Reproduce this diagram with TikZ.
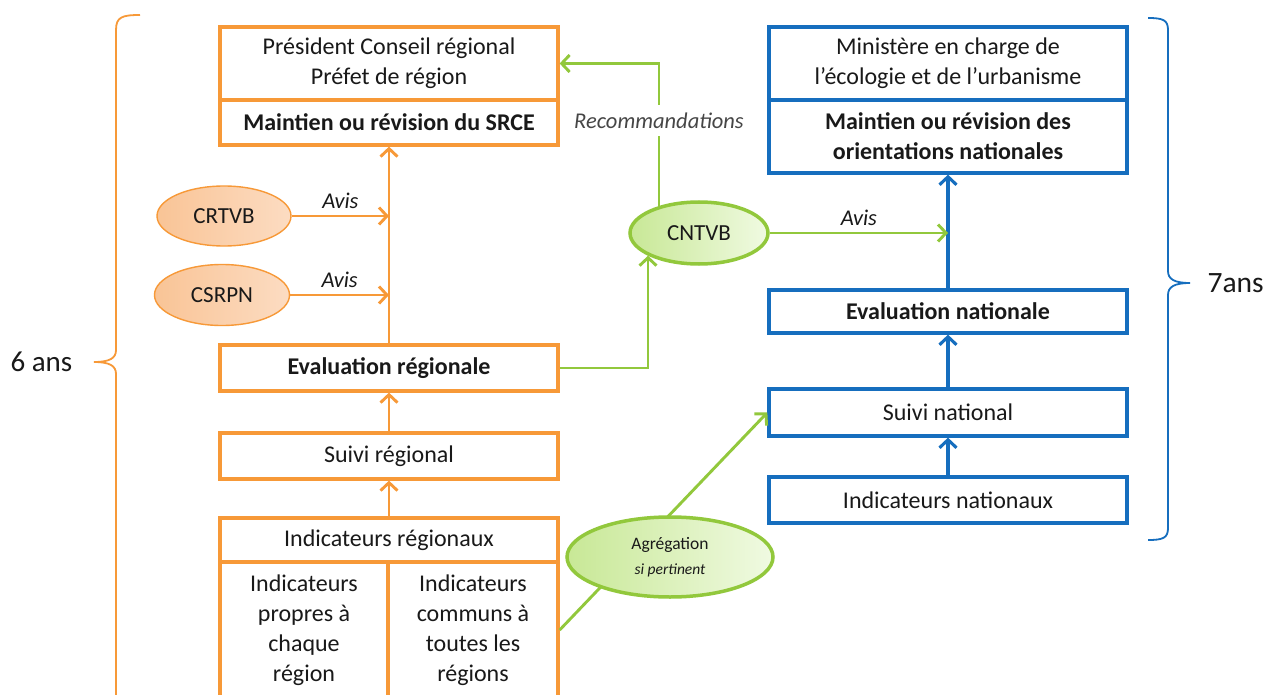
\documentclass[tikz,border=0pt]{standalone}
\usepackage{fontspec}
\setmainfont{Carlito}
\usetikzlibrary{arrows.meta,shapes.geometric}
\definecolor{orng}{RGB}{247,153,56}
\definecolor{orfillA}{RGB}{249,196,150}
\definecolor{orfillB}{RGB}{252,220,194}
\definecolor{blu}{RGB}{22,110,190}
\definecolor{grn}{RGB}{146,200,60}
\definecolor{grfillA}{RGB}{200,232,150}
\definecolor{grfillB}{RGB}{240,250,226}
\definecolor{txt}{RGB}{25,25,25}
\definecolor{gtxt}{RGB}{70,70,70}
\tikzset{
  obox/.style={draw=orng, line width=3.3pt, fill=white, align=center, inner sep=0pt, text=txt, minimum width=338pt},
  bbox/.style={draw=blu, line width=3.3pt, fill=white, align=center, inner sep=0pt, text=txt, minimum width=358pt},
  oell/.style={ellipse, draw=orng, line width=1.4pt, left color=orfillA, right color=orfillB, inner sep=0pt, text=txt, font=\fontsize{23}{28}\selectfont},
  gell/.style={ellipse, draw=grn, line width=3.5pt, left color=grfillA, right color=grfillB, inner sep=0pt, text=txt},
  tip/.style={-{Straight Barb[length=8pt,width=17pt]}},
  oarrow/.style={tip, draw=orng, line width=2.9pt},
  barrow/.style={tip, draw=blu, line width=3.1pt},
  garrow/.style={tip, draw=grn, line width=2.9pt},
  lbl/.style={font=\fontsize{22.5}{26}\selectfont\itshape, text=txt, inner sep=2pt},
  brace/.style={line width=1.8pt}
}
\begin{document}
\begin{tikzpicture}[x=1pt,y=-1pt,font=\fontsize{24}{30}\selectfont]
\clip (0,0) rectangle (1271,695);
\fill[white] (0,0) rectangle (1271,695);

% regional column
\node[obox, minimum height=73pt] (rPres) at (389,63.5) {Président Conseil régional\\Préfet de région};
\node[obox, minimum height=45pt] (rMaint) at (389,122.5) {\textbf{Maintien ou révision du SRCE}};
\node[obox, minimum height=46pt] (rEval) at (389,368) {\textbf{Evaluation régionale}};
\node[obox, minimum height=46pt] (rSuivi) at (389,456) {Suivi régional};
\node[obox, minimum height=44pt] (rInd) at (389,540) {Indicateurs régionaux};
\node[obox, minimum width=168pt, minimum height=136pt] (rProp) at (304,630) {Indicateurs\\propres à\\chaque\\région};
\node[obox, minimum width=170pt, minimum height=136pt] (rComm) at (473,630) {Indicateurs\\communs à\\toutes les\\régions};

\node[oell, minimum width=134pt, minimum height=60pt] (crtvb) at (224,216) {CRTVB};
\node[oell, minimum width=135pt, minimum height=61pt] (csrpn) at (222,295) {CSRPN};

\coordinate (j1) at (389,216);
\coordinate (j2) at (389,295);
\draw[oarrow] (rEval.north) -- (rMaint.south);
\draw[oarrow] (crtvb.east) -- (j1) node[midway, above=4pt, lbl] {Avis};
\draw[oarrow] (csrpn.east) -- (j2) node[midway, above=4pt, lbl] {Avis};
\draw[oarrow] (rSuivi.north) -- (rEval.south);
\draw[oarrow] (rInd.north) -- (rSuivi.south);

% national column
\node[bbox, minimum height=73pt] (nMin) at (948,63.5) {Ministère en charge de\\l’écologie et de l’urbanisme};
\node[bbox, minimum height=73pt] (nMaint) at (948,136.5) {\textbf{Maintien ou révision des}\\\textbf{orientations nationales}};
\node[bbox, minimum height=43pt] (nEval) at (948,311.5) {\textbf{Evaluation nationale}};
\node[bbox, minimum height=47pt] (nSuivi) at (948,412.5) {Suivi national};
\node[bbox, minimum height=46pt] (nInd) at (948,500) {Indicateurs nationaux};

\draw[barrow] (nEval.north) -- (nMaint.south);
\draw[barrow] (nSuivi.north) -- (nEval.south);
\draw[barrow] (nInd.north) -- (nSuivi.south);

% CNTVB
\node[gell, minimum width=138pt, minimum height=62pt, font=\fontsize{23}{28}\selectfont] (cntvb) at (699,233) {CNTVB};
\coordinate (j3) at (948,233);
\draw[garrow] (rEval.east) -| (cntvb.204);
\draw[garrow] (cntvb.east) -- (j3) node[midway, above=4pt, lbl] {Avis};
\draw[garrow] (cntvb.146) |- (rPres.east)
  node[pos=0.3, fill=white, lbl, text=gtxt, inner xsep=3pt, inner ysep=8pt] {Recommandations};

% aggregation
\draw[garrow] (rComm.east) -- (nSuivi.west);
\node[gell, minimum width=206pt, minimum height=80pt, align=center] (agr) at (670,557)
  {\fontsize{17.5}{20}\selectfont Agrégation\\[-5pt]\fontsize{15.5}{17}\selectfont\itshape si pertinent};

% braces
\draw[brace, draw=orng] (140,15) .. controls (122,15) and (116,17) .. (116,30) -- (116,350)
  .. controls (116,358) and (110,362) .. (94,362)
  .. controls (110,362) and (116,366) .. (116,374) -- (116,700);
\node[text=txt, font=\fontsize{29}{32}\selectfont, anchor=west] (six) at (7,362) {6 ans};

\draw[brace, draw=blu] (1148,18) .. controls (1163,18) and (1168,20) .. (1168,30) -- (1168,271)
  .. controls (1168,279) and (1174,283) .. (1190,283)
  .. controls (1174,283) and (1168,287) .. (1168,295) -- (1168,528)
  .. controls (1168,538) and (1163,540) .. (1148,540);
\node[text=txt, font=\fontsize{29.5}{32}\selectfont, anchor=west] (sept) at (1204,283) {7ans};
\end{tikzpicture}
\end{document}
